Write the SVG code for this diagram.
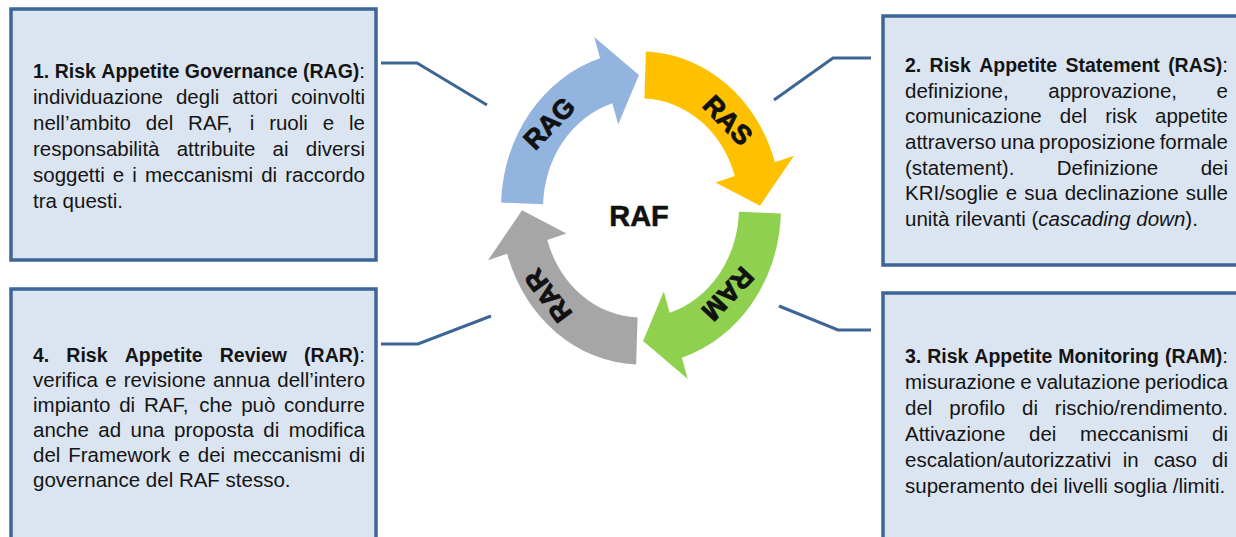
<svg xmlns="http://www.w3.org/2000/svg" xmlns:xlink="http://www.w3.org/1999/xlink" width="1236" height="537" viewBox="0 0 1236 537">
<style>
.box{fill:#dbe5f1;stroke:#3d6596;stroke-width:3.5}
.t{font-family:"Liberation Sans",Arial,sans-serif;font-size:20.5px;fill:#141414}
.b{font-weight:bold;font-size:19.5px}
.i{font-style:italic}
.con{fill:none;stroke:#3d6596;stroke-width:3}
.lbl{font-family:"Liberation Sans",Arial,sans-serif;font-weight:bold;font-size:27px;fill:#111;stroke:#111;stroke-width:0.9;text-anchor:middle}
</style>
<defs>
<path id="arw" d="M139.91 4.89 A140 140 0 0 1 40.93 133.88 L46.78 153.01 L2.08 118.98 L22.8 74.59 L28.65 93.72 A98 98 0 0 0 97.94 3.42 Z"/>
</defs>
<rect width="1236" height="537" fill="#ffffff"/>

<g id="connectors">
<polyline class="con" points="381,63 417,63 487,105"/>
<polyline class="con" points="774,100 833,58 871,58"/>
<polyline class="con" points="779,306 838,330 871,330"/>
<polyline class="con" points="491,316 418,344 381,344"/>
</g>

<g id="ring">
<g id="arrow-rag"><use xlink:href="#arw" href="#arw" fill="#92b4de" transform="translate(641 208) scale(1 1.118) rotate(180)"/>
<text class="lbl" transform="translate(549 123) rotate(-46)" y="9.6">RAG</text></g>
<g id="arrow-ras"><use xlink:href="#arw" href="#arw" fill="#ffc000" transform="translate(641 208) scale(1 1.118) rotate(270)"/>
<text class="lbl" transform="translate(728 120) rotate(46)" y="9.6">RAS</text></g>
<g id="arrow-ram"><use xlink:href="#arw" href="#arw" fill="#8fd14f" transform="translate(641 208) scale(1 1.118) rotate(0)"/>
<text class="lbl" transform="translate(728 294) rotate(133)" y="9.6">RAM</text></g>
<g id="arrow-rar"><use xlink:href="#arw" href="#arw" fill="#a6a6a6" transform="translate(641 208) scale(1 1.118) rotate(90)"/>
<text class="lbl" transform="translate(548 296) rotate(233)" y="9.6">RAR</text></g>
<g id="raf"><text x="639" y="226" font-family="Liberation Sans,Arial,sans-serif" font-weight="bold" font-size="29" fill="#111" stroke="#111" stroke-width="0.5" text-anchor="middle">RAF</text></g>
</g>

<g id="box-rag">
<rect class="box" x="11" y="9" width="365" height="251"/>
<text class="t" y="78"><tspan x="33" class="b">1.</tspan><tspan x="54.72" class="b">Risk</tspan><tspan x="101.36" class="b">Appetite</tspan><tspan x="184.82" class="b">Governance</tspan><tspan x="302.99" class="b">(RAG)</tspan><tspan>:</tspan></text>
<text class="t" y="104"><tspan x="33">individuazione</tspan><tspan x="175.95">degli</tspan><tspan x="232.31">attori</tspan><tspan x="290.94">coinvolti</tspan></text>
<text class="t" y="130"><tspan x="33">nell’ambito</tspan><tspan x="145.86">del</tspan><tspan x="188.1">RAF,</tspan><tspan x="249.69">i</tspan><tspan x="269.13">ruoli</tspan><tspan x="322.74">e</tspan><tspan x="349.03">le</tspan></text>
<text class="t" y="156"><tspan x="33">responsabilità</tspan><tspan x="176.71">attribuite</tspan><tspan x="272.58">ai</tspan><tspan x="305.78">diversi</tspan></text>
<text class="t" y="182"><tspan x="33">soggetti</tspan><tspan x="112.86">e</tspan><tspan x="132.33">i</tspan><tspan x="144.95">meccanismi</tspan><tspan x="261.22">di</tspan><tspan x="285.24">raccordo</tspan></text>
<text class="t" x="33" y="208">tra questi.</text>
</g>

<g id="box-ras">
<rect class="box" x="883" y="16" width="370" height="249"/>
<text class="t" y="72"><tspan x="905" class="b">2.</tspan><tspan x="929.62" class="b">Risk</tspan><tspan x="979.16" class="b">Appetite</tspan><tspan x="1065.52" class="b">Statement</tspan><tspan x="1168.14" class="b">(RAS)</tspan><tspan>:</tspan></text>
<text class="t" y="97.7"><tspan x="905">definizione,</tspan><tspan x="1048.27">approvazione,</tspan><tspan x="1216.61">e</tspan></text>
<text class="t" y="123.3"><tspan x="905">comunicazione</tspan><tspan x="1059.75">del</tspan><tspan x="1105.14">risk</tspan><tspan x="1155.06">appetite</tspan></text>
<text class="t" y="149"><tspan x="905">attraverso</tspan><tspan x="1000.51">una</tspan><tspan x="1039.07">proposizione</tspan><tspan x="1159.65">formale</tspan></text>
<text class="t" y="174.7"><tspan x="905">(statement).</tspan><tspan x="1056.82">Definizione</tspan><tspan x="1200.66">dei</tspan></text>
<text class="t" y="200.3"><tspan x="905">KRI/soglie</tspan><tspan x="1005.68">e</tspan><tspan x="1024.34">sua</tspan><tspan x="1064.65">declinazione</tspan><tspan x="1185.85">sulle</tspan></text>
<text class="t" x="905" y="226">unità rilevanti (<tspan class="i">cascading down</tspan>).</text>
</g>

<g id="box-ram">
<rect class="box" x="883" y="293" width="370" height="270"/>
<text class="t" y="363"><tspan x="905" class="b">3.</tspan><tspan x="927.19" class="b">Risk</tspan><tspan x="974.3" class="b">Appetite</tspan><tspan x="1058.23" class="b">Monitoring</tspan><tspan x="1164.9" class="b">(RAM)</tspan><tspan>:</tspan></text>
<text class="t" y="389"><tspan x="905">misurazione</tspan><tspan x="1020.25">e</tspan><tspan x="1036.4">valutazione</tspan><tspan x="1144.84">periodica</tspan></text>
<text class="t" y="415"><tspan x="905">del</tspan><tspan x="949.26">profilo</tspan><tspan x="1021.99">di</tspan><tspan x="1054.85">rischio/rendimento.</tspan></text>
<text class="t" y="441"><tspan x="905">Attivazione</tspan><tspan x="1029.01">dei</tspan><tspan x="1080.1">meccanismi</tspan><tspan x="1212.04">di</tspan></text>
<text class="t" y="467"><tspan x="905">escalation/autorizzativi</tspan><tspan x="1122.63">in</tspan><tspan x="1153.67">caso</tspan><tspan x="1212.06">di</tspan></text>
<text class="t" x="905" y="493">superamento dei livelli soglia /limiti.</text>
</g>

<g id="box-rar">
<rect class="box" x="11" y="289" width="365" height="274"/>
<text class="t" y="362"><tspan x="33" class="b">4.</tspan><tspan x="66.37" class="b">Risk</tspan><tspan x="124.66" class="b">Appetite</tspan><tspan x="219.77" class="b">Review</tspan><tspan x="304.08" class="b">(RAR)</tspan><tspan>:</tspan></text>
<text class="t" y="387"><tspan x="33">verifica</tspan><tspan x="105.16">e</tspan><tspan x="123.8">revisione</tspan><tspan x="213.06">annua</tspan><tspan x="277.29">dell’intero</tspan></text>
<text class="t" y="412"><tspan x="33">impianto</tspan><tspan x="119.22">di</tspan><tspan x="143.92">RAF,</tspan><tspan x="199.37">che</tspan><tspan x="241.17">può</tspan><tspan x="284.11">condurre</tspan></text>
<text class="t" y="437"><tspan x="33">anche</tspan><tspan x="98.27">ad</tspan><tspan x="130.5">una</tspan><tspan x="174.12">proposta</tspan><tspan x="263.32">di</tspan><tspan x="288.7">modifica</tspan></text>
<text class="t" y="462"><tspan x="33">del</tspan><tspan x="68.2">Framework</tspan><tspan x="178.55">e</tspan><tspan x="197.8">dei</tspan><tspan x="233">meccanismi</tspan><tspan x="349.05">di</tspan></text>
<text class="t" x="33" y="487">governance del RAF stesso.</text>
</g>
</svg>
